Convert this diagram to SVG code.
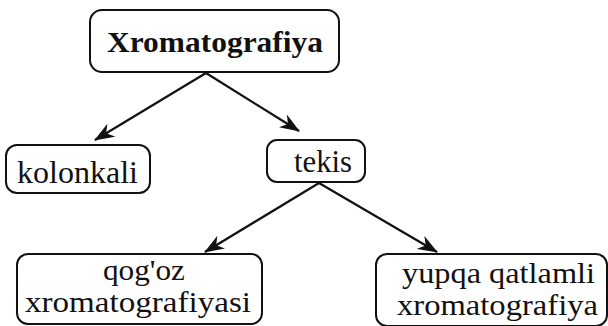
<svg xmlns="http://www.w3.org/2000/svg" width="608" height="326" viewBox="0 0 608 326">
<style>
.box{fill:#fff;stroke:#111;stroke-width:2}
.t{font-family:"Liberation Serif","Times New Roman",serif;font-size:32px;fill:#111}
.s{font-size:30px}
.b{font-weight:bold;font-size:30px}
.c{stroke:#111;stroke-width:2.2;fill:none;marker-end:url(#ah)}
</style>
<defs>
<marker id="ah" markerUnits="userSpaceOnUse" markerWidth="22" markerHeight="16" refX="19" refY="8" orient="auto">
<path d="M0,0.5 L20,8 L0,15.5 L6,8 Z" fill="#111"/>
</marker>
</defs>
<rect width="608" height="326" fill="#fff"/>
<g id="connectors">
<line class="c" x1="206" y1="73" x2="95" y2="140"/>
<line class="c" x1="206" y1="73" x2="299" y2="131"/>
<line class="c" x1="319" y1="183" x2="205" y2="252"/>
<line class="c" x1="319" y1="183" x2="437" y2="252"/>
</g>
<g id="n-xromatografiya">
<rect class="box" x="90" y="10" width="249" height="62" rx="12"/>
<text class="t b" x="107" y="52" textLength="216" lengthAdjust="spacingAndGlyphs">Xromatografiya</text>
</g>
<g id="n-kolonkali">
<rect class="box" x="6" y="145" width="144" height="48" rx="11"/>
<text class="t" x="17" y="183" textLength="121" lengthAdjust="spacingAndGlyphs">kolonkali</text>
</g>
<g id="n-tekis">
<rect class="box" x="267" y="140" width="98" height="42" rx="10"/>
<text class="t" x="294" y="172" textLength="58" lengthAdjust="spacingAndGlyphs">tekis</text>
</g>
<g id="n-qogoz">
<rect class="box" x="17" y="254" width="245" height="70" rx="11"/>
<text class="t s" x="103" y="280" textLength="82" lengthAdjust="spacingAndGlyphs">qog'oz</text>
<text class="t s" x="25" y="312" textLength="226" lengthAdjust="spacingAndGlyphs">xromatografiyasi</text>
</g>
<g id="n-yupqa">
<rect class="box" x="376" y="254" width="231" height="72" rx="11"/>
<text class="t s" x="402" y="283" textLength="193" lengthAdjust="spacingAndGlyphs">yupqa qatlamli</text>
<text class="t s" x="397" y="315" textLength="201" lengthAdjust="spacingAndGlyphs">xromatografiya</text>
</g>
</svg>
